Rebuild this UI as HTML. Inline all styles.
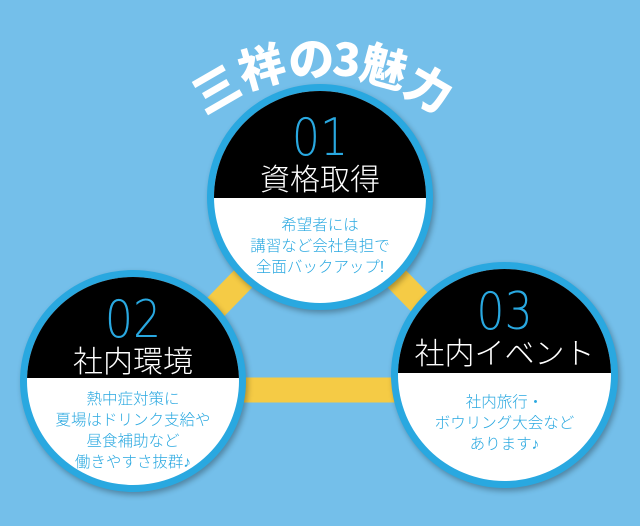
<!DOCTYPE html>
<html><head><meta charset="utf-8"><style>
body{margin:0}
#s{position:relative;width:640px;height:526px;background:#74bfea;overflow:hidden;font-family:"Liberation Sans","Noto Sans CJK JP",sans-serif}
.c{position:absolute;border-radius:50%;border:7px solid #29a8e0;overflow:hidden;background:#fff;box-shadow:2px 3px 6px rgba(0,0,0,.3);box-sizing:border-box}
.top{position:absolute;left:0;right:0;top:0;background:#000;text-align:center;color:#fff}
.num{color:#29a8e0;font-size:52px;line-height:50px;font-family:"DejaVu Sans",sans-serif;font-weight:200;transform:scaleX(.85)}
.ttl{font-size:30px;line-height:36px;color:#fff;font-weight:300}
.txt{position:absolute;left:0;right:0;text-align:center;color:#29a8e0;font-size:15.5px;line-height:21px;font-weight:300}
.t{position:absolute;color:#fff;font-weight:900;font-size:46px;line-height:46px;transform-origin:center;font-family:"Noto Sans CJK JP",sans-serif}
</style></head><body><div id="s">
<svg width="640" height="526" style="position:absolute;left:0;top:0"><polygon points="320,200 135,390 505,390" fill="none" stroke="#f5cb45" stroke-width="25"/></svg>
<div class="t" style="left:192px;top:64px;transform:rotate(-30deg)">三</div>
<div class="t" style="left:238px;top:42px;transform:rotate(-16deg)">祥</div>
<div class="t" style="left:288px;top:34px;transform:rotate(-5deg)">の</div>
<div class="t" style="left:333px;top:34px;transform:rotate(5deg)">3</div>
<div class="t" style="left:362px;top:42px;transform:rotate(15deg)">魅</div>
<div class="t" style="left:407px;top:64px;transform:rotate(30deg)">力</div>

<div class="c" style="left:207px;top:84px;width:226px;height:226px">
<div class="top" style="height:107px"><div class="num" style="margin-top:22px">01</div><div class="ttl">資格取得</div></div>
<div class="txt" style="top:124px">希望者には<br>講習など会社負担で<br>全面バックアップ!</div></div>

<div class="c" style="left:20px;top:270px;width:226px;height:222px">
<div class="top" style="height:101px"><div class="num" style="margin-top:18px">02</div><div class="ttl">社内環境</div></div>
<div class="txt" style="top:112px">熱中症対策に<br>夏場はドリンク支給や<br>昼食補助など<br>働きやすさ抜群♪</div></div>

<div class="c" style="left:391px;top:262px;width:227px;height:226px">
<div class="top" style="height:104px"><div class="num" style="margin-top:18px">03</div><div class="ttl">社内イベント</div></div>
<div class="txt" style="top:123px">社内旅行・<br>ボウリング大会など<br>あります♪</div></div>
</div></body></html>
